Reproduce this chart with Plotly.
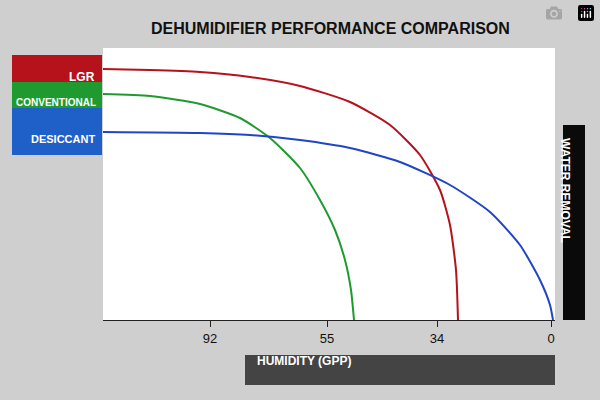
import plotly.graph_objects as go

# curves (x: distance along axis, y: water removal)
lgr_x = [0, 47, 97, 147, 197, 247, 287, 317, 337, 347, 353, 355]
lgr_y = [251, 250, 248, 243, 234, 218, 195, 165, 130, 95, 50, 0]
conv_x = [0, 47, 97, 137, 167, 197, 217, 232, 242, 248, 251]
conv_y = [226, 224, 216, 202, 182, 152, 120, 90, 60, 30, 0]
des_x = [0, 97, 147, 197, 247, 297, 347, 387, 417, 437, 447, 450]
des_y = [188, 187, 185, 180, 172, 158, 135, 108, 75, 40, 15, 0]
tick_pos = [107, 224, 334, 448]
tick_text = ["92", "55", "34", "0"]

L, R, T, B = 103, 555, 48, 320
def px(x): return (x - L) / (R - L)
def py(y): return (B - y) / (B - T)

FONT = "Liberation Sans"

fig = go.Figure()
for xs, ys, c in [(lgr_x, lgr_y, "#b5121b"), (conv_x, conv_y, "#1f9a2e"), (des_x, des_y, "#1f45c8")]:
    fig.add_trace(go.Scatter(x=xs, y=ys, mode="lines",
                             line=dict(color=c, width=2, shape="spline", smoothing=0.6),
                             showlegend=False, hoverinfo="skip"))

shapes = []
annos = []
def box(x0, y0, x1, y1, color, text=None, size=12, **kw):
    shapes.append(dict(type="rect", xref="paper", yref="paper", x0=px(x0), x1=px(x1), y0=py(y1), y1=py(y0),
                       fillcolor=color, line=dict(width=0), layer="above"))
    if text:
        a = dict(text=text, xref="paper", yref="paper", showarrow=False,
                 font=dict(family=FONT, size=size, color="white"))
        a.update(kw)
        annos.append(a)

box(12, 55, 102, 82, "#b5121b", "<b>LGR</b>", x=px(97), y=py(68), xanchor="right")
box(12, 82, 102, 108, "#1f9a2e", "<b>CONVENTIONAL</b>", size=10, x=px(98), y=py(95), xanchor="right")
box(12, 108, 102, 155, "#1f5fc8", "<b>DESICCANT</b>", size=11, x=px(97), y=py(131), xanchor="right")
box(563, 125, 585, 320, "#0a0a0a", "<b>WATER REMOVAL</b>", size=12, x=px(574), y=py(190), textangle=90)
box(245, 355, 555, 385, "#444444", "<b>HUMIDITY (GPP)</b>", size=12, x=px(255), y=py(370), xanchor="left")

annos.append(dict(text="<b>DEHUMIDIFIER PERFORMANCE COMPARISON</b>", xref="paper", yref="paper",
                  x=px(330), y=py(18), showarrow=False,
                  font=dict(family=FONT, size=16, color="#111")))

fig.update_layout(
    width=600, height=400, margin=dict(l=L, r=600 - R, t=T, b=400 - B),
    paper_bgcolor="#cfcfcf", plot_bgcolor="white",
    shapes=shapes, annotations=annos,
    xaxis=dict(range=[0, 452], tickvals=tick_pos, ticktext=tick_text, showgrid=False, zeroline=False,
               ticks="outside", ticklen=6, tickcolor="#222", showline=True, linecolor="#222",
               tickfont=dict(family=FONT, size=13, color="#111"), fixedrange=True),
    yaxis=dict(range=[0, 272], showticklabels=False, showgrid=False, zeroline=False, fixedrange=True),
)
fig.write_html("out.html", post_script="document.body.style.margin='0';")
